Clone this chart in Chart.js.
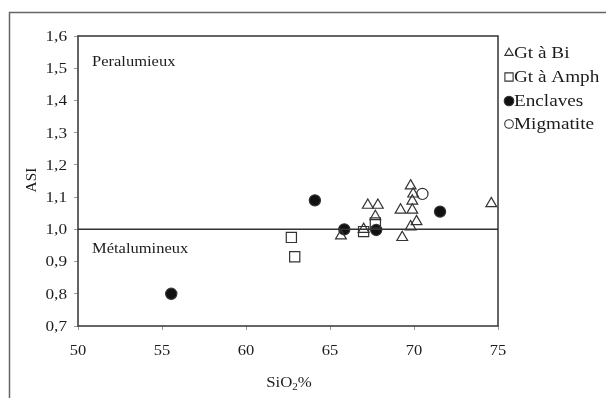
<!DOCTYPE html>
<html>
<head>
<meta charset="utf-8">
<script src="https://cdn.jsdelivr.net/npm/chart.js@4/dist/chart.umd.min.js"></script>
<style>
html,body{margin:0;padding:0;background:#fff;}
canvas{display:block;}
</style>
</head>
<body>
<canvas id="c" width="606" height="398" style="width:606px;height:398px"></canvas>
<script>
// ---- data ----
const seriesNames = ["Gt à Bi", "Gt à Amph", "Enclaves", "Migmatite"];
const gtBiX = [65.65, 67.0, 67.25, 67.85, 67.7, 69.2, 69.3, 69.8, 69.95, 69.9, 69.9, 70.15, 69.8, 74.6];
const gtBiY = [0.98, 1.0, 1.075, 1.075, 1.04, 1.06, 0.975, 1.135, 1.11, 1.088, 1.06, 1.024, 1.008, 1.08];
const gtAmphX = [62.7, 62.9, 67.0, 67.7];
const gtAmphY = [0.975, 0.915, 0.993, 1.02];
const enclavesX = [55.55, 64.1, 65.85, 67.75, 71.55];
const enclavesY = [0.80, 1.09, 1.0, 0.998, 1.055];
const migmatiteX = [70.5];
const migmatiteY = [1.11];
const boundaryX = [50, 75];
const boundaryY = [1.0, 1.0];
const xTicks = [50, 55, 60, 65, 70, 75];
const yTicks = [0.7, 0.8, 0.9, 1.0, 1.1, 1.2, 1.3, 1.4, 1.5, 1.6];
const regionLabels = ["Peralumieux", "Métalumineux"];
const xTitle = ["SiO", "2", "%"];
const yTitle = "ASI";

const pts = (xs, ys) => xs.map((x, i) => ({x: x, y: ys[i]}));
const FONT = "'Liberation Serif', 'DejaVu Serif', serif";
const INK = '#1c1c1c';

const legendMarkers = [
  {style: 'triangle', r: 4.8, fill: 'rgba(0,0,0,0)'},
  {style: 'rect', r: 5.8, fill: 'rgba(0,0,0,0)'},
  {style: 'circle', r: 4.8, fill: '#111'},
  {style: 'circle', r: 4.3, fill: 'rgba(0,0,0,0)'}
];

// draw text stretched horizontally (the reference lettering is wide)
function wideText(ctx, text, x, y, sx, align) {
  ctx.save();
  const w = ctx.measureText(text).width * sx;
  let left = x;
  if (align === 'center') left = x - w / 2;
  else if (align === 'right') left = x - w;
  ctx.translate(left, y);
  ctx.scale(sx, 1);
  ctx.textAlign = 'left';
  ctx.fillText(text, 0, 0);
  ctx.restore();
}

const decor = {
  id: 'decor',
  beforeDraw(chart) {
    const ctx = chart.ctx;
    ctx.save();
    ctx.fillStyle = '#fff';
    ctx.fillRect(0, 0, chart.width, chart.height);
    ctx.strokeStyle = '#666';
    ctx.lineWidth = 1.5;
    ctx.beginPath();
    ctx.moveTo(9.5, 420);
    ctx.lineTo(9.5, 12.5);
    ctx.lineTo(640, 12.5);
    ctx.stroke();
    ctx.restore();
  },
  afterDraw(chart) {
    const ctx = chart.ctx;
    const a = chart.chartArea;
    const xs = chart.scales.x, ys = chart.scales.y;
    ctx.save();
    ctx.strokeStyle = '#333';
    ctx.lineWidth = 1.5;
    ctx.strokeRect(a.left, a.top, a.right - a.left, a.bottom - a.top);

    ctx.fillStyle = INK;
    ctx.textBaseline = 'middle';
    // tick labels
    ctx.font = '15px ' + FONT;
    xTicks.forEach(v => wideText(ctx, String(v), xs.getPixelForValue(v), a.bottom + 25, 1.1, 'center'));
    yTicks.forEach(v => wideText(ctx, v.toFixed(1).replace('.', ','), a.left - 11, ys.getPixelForValue(v) + 1, 1.15, 'right'));

    // region labels
    ctx.font = '15px ' + FONT;
    wideText(ctx, regionLabels[0], a.left + 14, 62, 1.1, 'left');
    wideText(ctx, regionLabels[1], a.left + 14, 249, 1.1, 'left');

    // y title
    ctx.save();
    ctx.translate(32, 180);
    ctx.rotate(-Math.PI / 2);
    ctx.font = '14px ' + FONT;
    wideText(ctx, yTitle, 0, 0, 1.1, 'center');
    ctx.restore();

    // x title with subscript
    const sx = 1.12;
    ctx.font = '15px ' + FONT;
    const w0 = ctx.measureText(xTitle[0]).width * sx;
    const w2 = ctx.measureText(xTitle[2]).width * sx;
    ctx.font = '10px ' + FONT;
    const w1 = ctx.measureText(xTitle[1]).width * sx;
    const x0 = 289 - (w0 + w1 + w2) / 2;
    const ty = 383;
    ctx.font = '15px ' + FONT;
    wideText(ctx, xTitle[0], x0, ty, sx, 'left');
    ctx.font = '10px ' + FONT;
    wideText(ctx, xTitle[1], x0 + w0, ty + 4, sx, 'left');
    ctx.font = '15px ' + FONT;
    wideText(ctx, xTitle[2], x0 + w0 + w1, ty, sx, 'left');

    // legend
    const ly = [53, 77, 101, 124];
    seriesNames.forEach((name, i) => {
      const m = legendMarkers[i];
      ctx.strokeStyle = '#333';
      ctx.fillStyle = m.fill;
      ctx.lineWidth = 1.1;
      Chart.helpers.drawPoint(ctx, {pointStyle: m.style, radius: m.r, rotation: 0, borderWidth: 1.1}, 509, ly[i]);
      ctx.fillStyle = INK;
      ctx.font = '16px ' + FONT;
      wideText(ctx, name, 514, ly[i] + 1, 1.2, 'left');
    });
    ctx.restore();
  }
};

const ds = (label, data, style, r, fill) => ({
  label: label, data: data, pointStyle: style, pointRadius: r, pointHoverRadius: r,
  pointBackgroundColor: fill, pointBorderColor: '#333', pointBorderWidth: 1.2, showLine: false
});

new Chart(document.getElementById('c'), {
  type: 'scatter',
  data: {
    datasets: [
      {label: 'limit', data: pts(boundaryX, boundaryY), showLine: true, borderColor: '#333',
       borderWidth: 1.5, pointRadius: 0, pointHoverRadius: 0, fill: false},
      ds(seriesNames[0], pts(gtBiX, gtBiY), 'triangle', 6.2, 'rgba(0,0,0,0)'),
      ds(seriesNames[1], pts(gtAmphX, gtAmphY), 'rect', 7.2, 'rgba(0,0,0,0)'),
      ds(seriesNames[2], pts(enclavesX, enclavesY), 'circle', 5.6, '#111'),
      ds(seriesNames[3], pts(migmatiteX, migmatiteY), 'circle', 5.6, 'rgba(0,0,0,0)')
    ]
  },
  options: {
    responsive: false,
    animation: false,
    devicePixelRatio: 1,
    layout: {padding: {left: 0, top: 36, right: 108, bottom: 0}},
    plugins: {legend: {display: false}, tooltip: {enabled: false}},
    scales: {
      x: {
        type: 'linear', min: xTicks[0], max: xTicks[xTicks.length - 1],
        afterFit: s => { s.height = 72; },
        afterBuildTicks: s => { s.ticks = xTicks.map(v => ({value: v})); },
        grid: {display: true, drawOnChartArea: false, drawTicks: true, tickLength: 4, color: '#999'},
        border: {display: false},
        ticks: {display: false}
      },
      y: {
        type: 'linear', min: yTicks[0], max: yTicks[yTicks.length - 1],
        afterFit: s => { s.width = 78; },
        afterBuildTicks: s => { s.ticks = yTicks.map(v => ({value: v})); },
        grid: {display: true, drawOnChartArea: false, drawTicks: true, tickLength: 4, color: '#999'},
        border: {display: false},
        ticks: {display: false}
      }
    }
  },
  plugins: [decor]
});
</script>
</body>
</html>
